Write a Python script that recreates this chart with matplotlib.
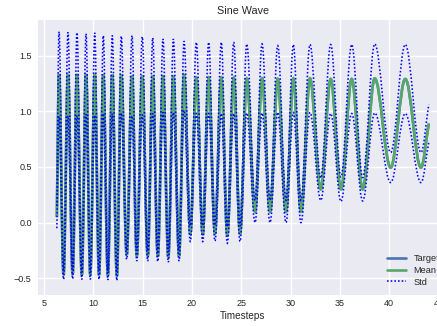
import matplotlib
matplotlib.use("Agg")
import matplotlib.pyplot as plt
from matplotlib.path import Path
from matplotlib.patches import PathPatch

# turning points of the wave
peak_t = [6.52, 7.43, 8.34, 9.26, 10.14, 11.01, 11.92, 12.83,
          13.92, 14.96, 16.02, 17.06, 18.11, 19.19,
          20.44, 21.69, 22.97, 24.23, 25.55,
          27.10, 28.69, 30.27, 31.96,
          34.06, 36.19, 38.52, 41.62]
peak_mean = [1.335, 1.335, 1.335, 1.335, 1.335, 1.33, 1.33, 1.33,
             1.32, 1.32, 1.32, 1.32, 1.32, 1.32,
             1.30, 1.30, 1.30, 1.30, 1.295,
             1.295, 1.29, 1.295, 1.295,
             1.29, 1.29, 1.295, 1.29]
peak_std = [0.38, 0.375, 0.372, 0.362, 0.37, 0.35, 0.35, 0.345,
            0.36, 0.35, 0.34, 0.33, 0.33, 0.31,
            0.32, 0.32, 0.32, 0.32, 0.31,
            0.31, 0.30, 0.305, 0.305,
            0.31, 0.31, 0.31, 0.31]

trough_t = [6.98, 7.90, 8.83, 9.69, 10.58, 11.47, 12.38,
            13.38, 14.40, 15.51, 16.53, 17.60, 18.69,
            19.83, 21.09, 22.33, 23.58, 24.87,
            26.39, 27.91, 29.53, 31.05,
            33.05, 35.10, 37.30,
            40.14, 43.21]
trough_mean = [-0.47, -0.465, -0.47, -0.47, -0.47, -0.475, -0.48,
               -0.29, -0.30, -0.30, -0.305, -0.31, -0.30,
               -0.10, -0.10, -0.095, -0.11, -0.10,
               0.10, 0.10, 0.10, 0.10,
               0.30, 0.30, 0.30,
               0.495, 0.495]
trough_std = [0.04, 0.04, 0.04, 0.04, 0.04, 0.04, 0.04,
              0.04, 0.045, 0.045, 0.045, 0.045, 0.045,
              0.07, 0.07, 0.07, 0.075, 0.07,
              0.10, 0.10, 0.10, 0.10,
              0.10, 0.11, 0.105,
              0.135, 0.135]

# first and last sample of the series
start_t, start_mean, start_std = 6.30, 0.05, 0.10
end_t, end_mean, end_std = 44.0, 0.89, 0.17


def knots(start, peaks, troughs, end):
    vals = [start]
    for p, q in zip(peaks, troughs):
        vals += [p, q]
    return vals + [end]


def wave_path(ts, ys):
    # smooth bezier through the turning points (flat tangent at each one)
    k = 0.364
    verts = [(ts[0], ys[0])]
    codes = [Path.MOVETO]
    n = len(ts)
    for i in range(1, n):
        x0, y0, x1, y1 = ts[i - 1], ys[i - 1], ts[i], ys[i]
        d = (x1 - x0) * k
        c0 = (x0 + d, y0) if i > 1 else (x0 + d, y0 + (y1 - y0) * k)
        c1 = (x1 - d, y1) if i < n - 1 else (x1 - d, y1 - (y1 - y0) * k)
        verts += [c0, c1, (x1, y1)]
        codes += [Path.CURVE4] * 3
    return Path(verts, codes)


t = knots(start_t, peak_t, trough_t, end_t)
mean = knots(start_mean, peak_mean, trough_mean, end_mean)
std = knots(start_std, peak_std, trough_std, end_std)
target = mean  # target sits right under the mean line
upper = [m + s for m, s in zip(mean, std)]
lower = [m - s for m, s in zip(mean, std)]

plt.style.use('seaborn-v0_8-darkgrid')
plt.rcParams['font.family'] = ['Liberation Sans', 'DejaVu Sans']
plt.rcParams['grid.linewidth'] = 1.0

fig = plt.figure(figsize=(4.37, 3.26), dpi=100)
ax = fig.add_axes([38.3 / 437, 31 / 326, 409.2 / 437, 275 / 326])

blue, green = '#4C72B0', '#55A868'
dots = (0, (1, 1.3))

ax.add_patch(PathPatch(wave_path(t, target), fill=False, edgecolor=blue, lw=1.9))
ax.add_patch(PathPatch(wave_path(t, mean), fill=False, edgecolor=green, lw=1.9))
ax.add_patch(PathPatch(wave_path(t, upper), fill=False, edgecolor='b', lw=1.15, linestyle=dots))
ax.add_patch(PathPatch(wave_path(t, lower), fill=False, edgecolor='b', lw=1.15, linestyle=dots))

# legend proxies
ax.plot([], [], color=blue, lw=1.9, label='Target')
ax.plot([], [], color=green, lw=1.9, label='Mean')
ax.plot([], [], color='b', lw=1.15, linestyle=dots, label='Std')

ax.set_xlim(4.42, 45.9)
ax.set_ylim(-0.65, 1.82)
ax.set_title('Sine Wave', fontsize=7.75, pad=4)
ax.set_xlabel('Timesteps', fontsize=7.1, labelpad=2)
ax.tick_params(axis='x', labelsize=6.45, pad=3.2)
ax.tick_params(axis='y', labelsize=6.45, pad=4.75)
ax.legend(loc='lower right', fontsize=6.7, labelspacing=0.3)

fig.savefig('out.png', dpi=100)
